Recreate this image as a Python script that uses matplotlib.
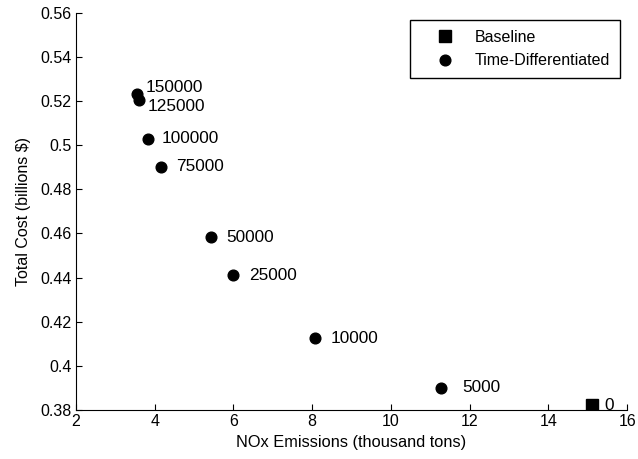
import matplotlib.pyplot as plt
from matplotlib.ticker import FuncFormatter

plt.rcParams['font.family'] = ['Liberation Sans', 'DejaVu Sans']

# Baseline run (no differentiation)
base_nox = [15.11]
base_cost = [0.382]
base_labels = ['0']

# Time-differentiated runs
td_nox = [3.55, 3.61, 3.82, 4.15, 5.42, 5.98, 8.07, 11.27]
td_cost = [0.5232, 0.5203, 0.503, 0.4903, 0.4583, 0.441, 0.4125, 0.3901]
td_labels = ['150000', '125000', '100000', '75000', '50000', '25000', '10000', '5000']

x_ticks = [2, 4, 6, 8, 10, 12, 14, 16]
y_ticks = [0.38, 0.40, 0.42, 0.44, 0.46, 0.48, 0.50, 0.52, 0.54, 0.56]

fig = plt.figure(figsize=(6.38, 4.59), dpi=100)
ax = fig.add_axes([0.119, 0.107, 0.864, 0.865])

ax.plot(base_nox, base_cost, 's', color='black', markersize=8, label='Baseline')
ax.plot(td_nox, td_cost, 'o', color='black', markersize=7.7, label='Time-Differentiated')

# label offsets in pixels; the two top points sit close together
offsets = {'150000': (9, 7), '125000': (8, -6), '100000': (14, 0), '5000': (21, 0)}
for x, y, t in zip(td_nox, td_cost, td_labels):
    dx, dy = offsets.get(t, (16, 0))
    ax.annotate(t, (x, y), xytext=(dx, dy), textcoords='offset pixels',
                va='center', ha='left', fontsize=12.4)
for x, y, t in zip(base_nox, base_cost, base_labels):
    ax.annotate(t, (x, y), xytext=(12, 0), textcoords='offset pixels',
                va='center', ha='left', fontsize=12.4)

ax.set_xlim(2, 16)
ax.set_ylim(0.38, 0.56)
ax.set_xticks(x_ticks)
ax.set_yticks(y_ticks)
ax.yaxis.set_major_formatter(FuncFormatter(lambda v, p: '%g' % round(v, 2)))
ax.tick_params(direction='in', length=4, labelsize=11.5, width=0.8, pad=3)

ax.spines['top'].set_visible(False)
ax.spines['right'].set_visible(False)

ax.set_xlabel('NOx Emissions (thousand tons)', fontsize=11.8, labelpad=4)
ax.set_ylabel('Total Cost (billions $)', fontsize=11.5, labelpad=7)

leg = ax.legend(loc='upper right', fontsize=11.5, fancybox=False, edgecolor='black',
                framealpha=1, borderpad=0.6, handlelength=3.3, handletextpad=0.2,
                borderaxespad=0.45, labelspacing=0.55)
leg.get_frame().set_linewidth(1.0)

fig.savefig('out.png', dpi=100)
